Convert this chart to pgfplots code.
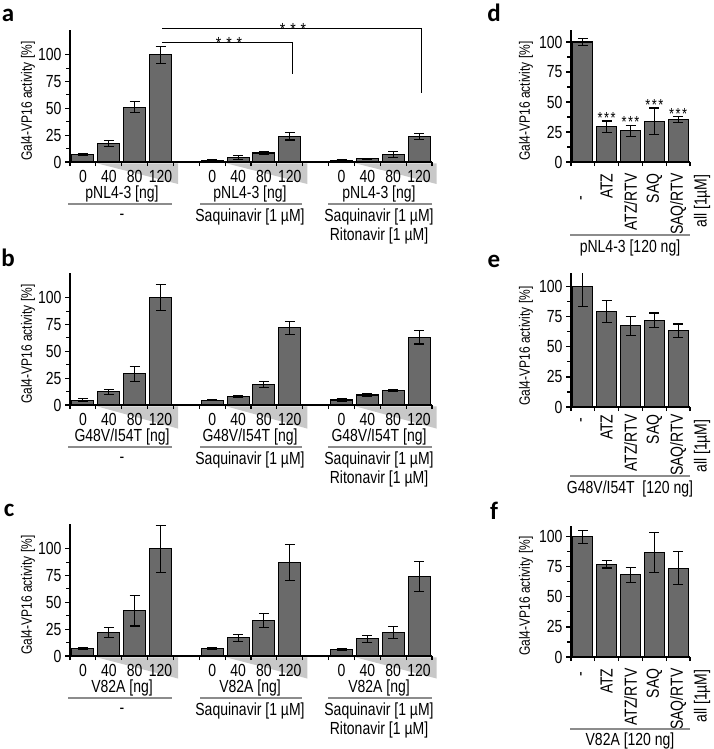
\documentclass[border=0pt]{standalone}
\usepackage{pgfplots}
\pgfplotsset{compat=1.18}
\usepackage{pgfplotstable}
\usepackage{fontspec}
\setmainfont{Liberation Sans}[FakeStretch=0.8]
\newfontfamily\carlito{Carlito}
\definecolor{barfill}{RGB}{106,106,106}
\definecolor{wedgec}{RGB}{200,200,200}
\definecolor{uline}{RGB}{140,140,140}
\newcommand\fa{\fontsize{17.5pt}{19pt}\selectfont}
\newcommand\fy{\fontsize{15pt}{17pt}\selectfont}
\newcommand\fs{\fontsize{16pt}{17pt}\selectfont}
\newcommand\fl{\carlito\bfseries\fontsize{25pt}{25pt}\selectfont}

\pgfplotstableread{
x y e
0 7.3 1.0
1 17.4 2.8
2 51 5.2
3 100 7.8
5 1.8 0.3
6 4.2 1.8
7 8.4 1.2
8 24 3.5
10 1.8 0.3
11 3 0.4
12 7 2.5
13 24 2.8
}\tabA
\pgfplotstableread{
x y e
0 4.5 1.3
1 12.2 2.6
2 29 7
3 100 12
5 4.5 0.2
6 8 1
7 19 3
8 72 6.2
10 4.7 1.2
11 9.3 1
12 13.8 1
13 63 6.2
}\tabB
\pgfplotstableread{
x y e
0 7.2 1
1 21.8 4.5
2 42 14
3 100 22
5 7.2 1
6 17 3.1
7 33 6.4
8 87 17
10 6 1.1
11 16 3.5
12 22 5.5
13 74 14
}\tabC
\pgfplotstableread{
x y e
0 100 2.8
1 29.5 4.7
2 26 4.6
3 34 11
4 35.2 2.5
}\tabD
\pgfplotstableread{
x y e
0 100 16
1 79.5 9.4
2 67.5 8
3 72.2 6
4 63.3 5.8
}\tabE
\pgfplotstableread{
x y e
0 100 5.6
1 77.3 3.2
2 68.3 6
3 87 16.8
4 74 14
}\tabF

\pgfplotsset{
  base/.style={scale only axis, axis x line*=bottom, axis y line*=left,
    axis line style={line width=1.2pt, black}, ymin=0,
    tick align=outside, major tick length=5pt, minor tick length=4pt,
    tick style={line width=1.1pt, black},
    ytick={0,25,50,75,100}, minor ytick={12.5,37.5,62.5,87.5},
    tick label style={font=\fa},
    /pgf/number format/assume math mode=true,
    major x tick style={draw=none},
    clip=false, anchor=south west, set layers},
  leftp/.style={base, width=362pt, height=132pt, xmin=-0.5, xmax=13.5, ymax=123,
    xtick={0,1,2,3,5,6,7,8,10,11,12,13},
    xticklabels={0,40,80,120,0,40,80,120,0,40,80,120},
    minor xtick={-0.5,0.5,...,13.5}},
  rightp/.style={base, width=119pt, xmin=-0.5, xmax=4.5,
    xtick={0,1,2,3,4},
    minor xtick={-0.5,0.5,...,4.5},
    xticklabel style={rotate=90, anchor=east}, xticklabel shift=3pt},
  bars/.style={ybar, bar width=#1, fill=barfill, draw=black, line width=1.1pt,
    error bars/.cd, y dir=both, y explicit,
    error bar style={line width=1.1pt, black},
    error mark options={black, line width=1.1pt, mark size=5pt, rotate=90}},
  wedge/.style={fill=wedgec, draw=none, on layer=axis background}
}

\newcommand\grp[2]{%
  \node[font=\fa] at (122,{#1+32}) {#2};
  \node[font=\fa] at (250,{#1+32}) {#2};
  \node[font=\fa] at (379,{#1+32}) {#2};
  \draw[uline, line width=1.2pt] (68,{#1+42}) -- (172,{#1+42});
  \draw[uline, line width=1.2pt] (200,{#1+42}) -- (302,{#1+42});
  \draw[uline, line width=1.2pt] (328,{#1+42}) -- (432,{#1+42});
  \node[font=\fa] at (122,{#1+55}) {-};
  \node[font=\fa] at (250,{#1+55}) {Saquinavir [1 µM]};
  \node[font=\fa] at (379,{#1+55}) {Saquinavir [1 µM]};
  \node[font=\fa] at (379,{#1+74}) {Ritonavir [1 µM]};
  \node[font=\fy, rotate=90] at (28,{#1-61}) {Gal4-VP16 activity [\%]};
}
\newcommand\rgrp[4]{% y0, line y, label y, label
  \draw[uline, line width=1.2pt] (570,#2) -- (690,#2);
  \node[font=\fa] at (630,#3) {#4};
  \node[font=\fa, rotate=90, anchor=east] at (702,{#1+9}) {all [1µM]};
  \node[font=\fy, rotate=90] at (526,{#1-61}) {Gal4-VP16 activity [\%]};
}

\begin{document}
\begin{tikzpicture}

% ---------- a ----------
\begin{axis}[leftp, at={(70pt,-162pt)}]
  \addplot[wedge] coordinates {(0.55,-1.3) (3.68,-1.3) (3.68,-20.5)} --cycle;
  \addplot[wedge] coordinates {(5.55,-1.3) (8.68,-1.3) (8.68,-20.5)} --cycle;
  \addplot[wedge] coordinates {(10.55,-1.3) (13.68,-1.3) (13.68,-20.5)} --cycle;
  \addplot[bars=0.85] table[x=x, y=y, y error=e] {\tabA};
\end{axis}

% ---------- b ----------
\begin{axis}[leftp, at={(70pt,-405pt)}]
  \addplot[wedge] coordinates {(0.55,-1.3) (3.68,-1.3) (3.68,-22)} --cycle;
  \addplot[wedge] coordinates {(5.55,-1.3) (8.68,-1.3) (8.68,-22)} --cycle;
  \addplot[wedge] coordinates {(10.55,-1.3) (13.68,-1.3) (13.68,-22)} --cycle;
  \addplot[bars=0.85] table[x=x, y=y, y error=e] {\tabB};
\end{axis}

% ---------- c ----------
\begin{axis}[leftp, at={(70pt,-656pt)}]
  \addplot[wedge] coordinates {(0.55,-1.3) (3.68,-1.3) (3.68,-21)} --cycle;
  \addplot[wedge] coordinates {(5.55,-1.3) (8.68,-1.3) (8.68,-21)} --cycle;
  \addplot[wedge] coordinates {(10.55,-1.3) (13.68,-1.3) (13.68,-21)} --cycle;
  \addplot[bars=0.85] table[x=x, y=y, y error=e] {\tabC};
\end{axis}

% ---------- d ----------
\begin{axis}[rightp, at={(571pt,-162pt)}, height=132pt, ymax=110,
  xticklabels={-\hspace*{22pt},ATZ,ATZ/RTV,SAQ,SAQ/RTV}]
  \addplot[bars=0.84] table[x=x, y=y, y error=e] {\tabD};
  \node[font=\fs, anchor=base, yshift=-2.5pt] at (axis cs:1,34.2) {*\kern1.5pt*\kern1.5pt*};
  \node[font=\fs, anchor=base, yshift=-2.5pt] at (axis cs:2,30.6) {*\kern1.5pt*\kern1.5pt*};
  \node[font=\fs, anchor=base, yshift=-2.5pt] at (axis cs:3,45) {*\kern1.5pt*\kern1.5pt*};
  \node[font=\fs, anchor=base, yshift=-2.5pt] at (axis cs:4,37.7) {*\kern1.5pt*\kern1.5pt*};
\end{axis}

% ---------- e ----------
\begin{axis}[rightp, at={(571pt,-407pt)}, height=134pt, ymax=111.5, clip=true,
  xticklabel shift=-1pt,
  xticklabels={-\hspace*{3pt},ATZ,ATZ/RTV,SAQ,SAQ/RTV}]
  \addplot[bars=0.84] table[x=x, y=y, y error=e] {\tabE};
\end{axis}

% ---------- f ----------
\begin{axis}[rightp, at={(571pt,-657pt)}, height=131pt, ymax=109,
  xticklabels={-\hspace*{3pt},ATZ,ATZ/RTV,SAQ,SAQ/RTV}]
  \addplot[bars=0.84] table[x=x, y=y, y error=e] {\tabF};
\end{axis}

\begin{scope}[x=1pt, y=-1pt]
  % panel letters
  \node[font=\fl] at (8,15) {a};
  \node[font=\fl] at (8,258) {b};
  \node[font=\fl] at (9,510) {c};
  \node[font=\fl] at (494,13) {d};
  \node[font=\fl] at (494,261) {e};
  \node[font=\fl] at (494,511) {f};
  % group labels
  \grp{162}{pNL4-3 [ng]}
  \grp{405}{G48V/I54T [ng]}
  \grp{656}{V82A [ng]}
  \rgrp{162}{235}{248}{pNL4-3 [120 ng]}
  \rgrp{407}{476}{489}{G48V/I54T\ \ [120 ng]}
  \rgrp{657}{729}{741}{V82A [120 ng]}
  % significance brackets
  \draw[line width=1pt] (162,29) -- (421,29) -- (421,93);
  \draw[line width=1pt] (162,43) -- (292,43) -- (292,74);
  \node[font=\fa, anchor=base] at (293,35.5) {*\kern5pt*\kern5pt*};
  \node[font=\fa, anchor=base] at (229,49.5) {*\kern5pt*\kern5pt*};
\end{scope}
\pgfresetboundingbox
\path[use as bounding box] (0,0) rectangle (714pt,-749pt);
\end{tikzpicture}
\end{document}
